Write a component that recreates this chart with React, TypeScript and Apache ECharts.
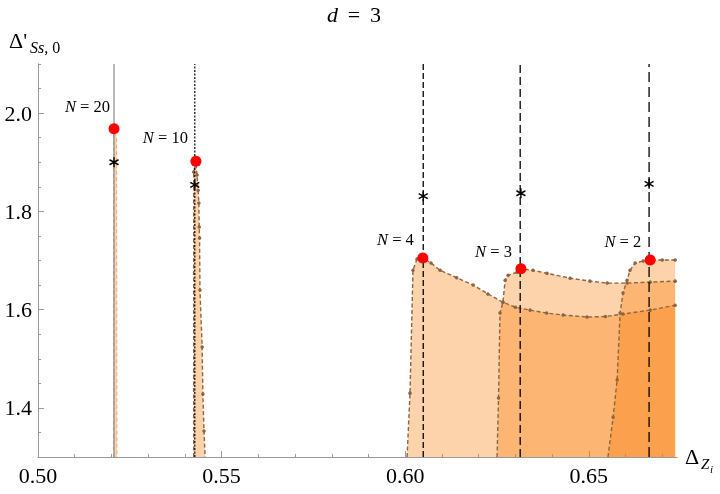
import { useEffect, useRef } from 'react';
import * as echarts from 'echarts';

// ---- data ----
const xTicksMajor = [0.5, 0.55, 0.6, 0.65];
const xTicksMinor = [0.5, 0.51, 0.52, 0.53, 0.54, 0.55, 0.56, 0.57, 0.58, 0.59, 0.6, 0.61, 0.62, 0.63, 0.64, 0.65, 0.66, 0.67];
const yTicksMajor = [1.4, 1.6, 1.8, 2.0];
const yTicksMinor = [1.3, 1.35, 1.4, 1.45, 1.5, 1.55, 1.6, 1.65, 1.7, 1.75, 1.8, 1.85, 1.9, 1.95, 2.0, 2.05, 2.1];

const region20: [number, number][] = [[0.5206, 1.3], [0.5206, 1.968], [0.5214, 1.95], [0.5215, 1.3]];
const region10: [number, number][] = [
  [0.5424, 1.3], [0.5424, 1.88], [0.543, 1.902], [0.5433, 1.874], [0.5436, 1.843], [0.5438, 1.817],
  [0.5439, 1.768], [0.5440, 1.746], [0.5441, 1.64], [0.5447, 1.524], [0.5449, 1.428], [0.5452, 1.353], [0.5455, 1.3],
];
const region4: [number, number][] = [
  [0.6005, 1.3], [0.6013, 1.43], [0.6021, 1.68], [0.6032, 1.703], [0.6048, 1.705], [0.607, 1.695],
  [0.6095, 1.68], [0.614, 1.665], [0.6185, 1.65], [0.6225, 1.632], [0.6266, 1.615], [0.63, 1.605],
  [0.634, 1.599], [0.6385, 1.593], [0.643, 1.589], [0.6495, 1.585], [0.6545, 1.586], [0.6593, 1.591],
  [0.6667, 1.599], [0.6735, 1.609],
];
const region3: [number, number][] = [
  [0.625, 1.3], [0.6254, 1.42], [0.6258, 1.593], [0.6266, 1.615], [0.6272, 1.66], [0.628, 1.67],
  [0.6304, 1.676], [0.6315, 1.683], [0.6348, 1.68], [0.6386, 1.674], [0.6449, 1.664], [0.6503, 1.658],
  [0.655, 1.654], [0.6604, 1.654], [0.6667, 1.656], [0.6735, 1.658],
];
const region2: [number, number][] = [
  [0.6552, 1.3], [0.6566, 1.381], [0.6577, 1.457], [0.6585, 1.593], [0.6593, 1.634], [0.6604, 1.66],
  [0.6612, 1.68], [0.6626, 1.695], [0.6648, 1.699], [0.6669, 1.701], [0.67, 1.701], [0.6735, 1.701],
];

const nLabels = ['20', '10', '4', '3', '2'];
const redPoints: [number, number][] = [[0.5207, 1.968], [0.543, 1.902], [0.6048, 1.705], [0.6315, 1.683], [0.6667, 1.701]];
const starPoints: [number, number][] = [[0.5207, 1.9], [0.5427, 1.854], [0.6049, 1.831], [0.6315, 1.837], [0.6664, 1.856]];
const vLineX = [0.5207, 0.5427, 0.6049, 0.6313, 0.6664];

// ---- styles ----
const labelOffsets: [number, number][] = [[1.5, -22], [-2.5, -24], [-3.5, -19], [-3.5, -17], [-3.5, -19]];
const vLineStyles = [
  { color: '#8a8a8a', type: 'solid', width: 1.2 },
  { color: '#000', type: [2, 1.5], width: 1.2 },
  { color: '#000', type: [6, 3], width: 1.3 },
  { color: '#000', type: [8, 4], width: 1.3 },
  { color: '#000', type: [10, 5], width: 1.3 },
];
const SERIF = '"Liberation Serif", "Times New Roman", serif';
const FILL = 'rgb(250,120,0)';
const EDGE = '#8f6440';
const AXIS = '#9a9a9a';

function areaSeries(data: [number, number][], showDots: boolean, edgeWidth = 1.4, edgeColor = EDGE) {
  return {
    type: 'line',
    data: data.map((p) => (p[1] <= 1.3 ? { value: p, symbol: 'none' } : { value: p })),
    smooth: false,
    symbol: showDots ? 'circle' : 'none',
    symbolSize: 3.5,
    itemStyle: { color: EDGE },
    lineStyle: { color: edgeColor, type: [4, 2.5], width: edgeWidth },
    areaStyle: { color: FILL, opacity: 0.33, origin: 'start' },
    z: 2,
    silent: true,
  };
}

export default function App() {
  const ref = useRef<HTMLDivElement>(null);
  useEffect(() => {
    document.body.style.margin = '0';
    const chart = echarts.init(ref.current!, null, { renderer: 'svg' });
    const commonAxisLine = { show: true, lineStyle: { color: AXIS, width: 1 } };
    const option: any = {
      animation: false,
      grid: { left: 38, right: 43, top: 64, bottom: 37, outerBoundsMode: 'none' },
      xAxis: [
        {
          type: 'value', min: 0.5, max: 0.674, position: 'bottom',
          axisLine: commonAxisLine,
          axisTick: { show: true, inside: true, length: 3, customValues: xTicksMinor, lineStyle: { color: AXIS } },
          axisLabel: { show: false },
          splitLine: { show: false },
        },
        {
          type: 'value', min: 0.5, max: 0.674, position: 'bottom',
          axisLine: commonAxisLine,
          axisTick: { show: true, inside: true, length: 6, customValues: xTicksMajor, lineStyle: { color: AXIS } },
          axisLabel: {
            show: true, customValues: xTicksMajor, formatter: (v: number) => v.toFixed(2),
            fontFamily: SERIF, fontSize: 22, color: '#000', margin: 7,
          },
          splitLine: { show: false },
        },
      ],
      yAxis: [
        {
          type: 'value', min: 1.3, max: 2.1, position: 'left',
          axisLine: commonAxisLine,
          axisTick: { show: true, inside: true, length: 3, customValues: yTicksMinor, lineStyle: { color: AXIS } },
          axisLabel: { show: false },
          splitLine: { show: false },
        },
        {
          type: 'value', min: 1.3, max: 2.1, position: 'left',
          axisLine: commonAxisLine,
          axisTick: { show: true, inside: true, length: 6, customValues: yTicksMajor, lineStyle: { color: AXIS } },
          axisLabel: {
            show: true, customValues: yTicksMajor, formatter: (v: number) => v.toFixed(1),
            fontFamily: SERIF, fontSize: 22, color: '#000', margin: 6,
          },
          splitLine: { show: false },
        },
      ],
      series: [
        areaSeries(region4, true),
        areaSeries(region3, true),
        areaSeries(region2, true),
        areaSeries(region10, true),
        areaSeries(region20, false, 0.8, '#e0a060'),
        ...vLineX.map((x, i) => ({
          type: 'line',
          data: [[x, 1.3], [x, 2.1]],
          symbol: 'none',
          lineStyle: vLineStyles[i],
          z: 3,
          silent: true,
        })),
        {
          type: 'scatter',
          data: starPoints,
          symbol: 'path://M0,-5L0,5M-4.33,-2.5L4.33,2.5M-4.33,2.5L4.33,-2.5',
          symbolSize: [9, 10],
          itemStyle: { color: 'rgba(0,0,0,0)', borderColor: '#000', borderWidth: 1.5, opacity: 1 },
          z: 4,
          silent: true,
        },
        {
          type: 'scatter',
          data: redPoints.map((p, i) => ({
            value: p,
            name: nLabels[i],
            label: { offset: labelOffsets[i] },
          })),
          symbol: 'circle',
          symbolSize: 11,
          itemStyle: { color: '#ff0000', opacity: 1 },
          label: {
            show: true,
            position: 'left',
            distance: 0,
            formatter: (p: any) => `{i|N} = ${p.name}`,
            fontFamily: SERIF,
            fontSize: 16.5,
            color: '#000',
            rich: { i: { fontFamily: SERIF, fontStyle: 'italic', fontSize: 16.5, color: '#000' } },
          },
          z: 5,
          silent: true,
        },
      ],
      graphic: [
        {
          type: 'text', x: 354, y: 14,
          style: {
            text: '{i|d}\u2009 = \u20093', fill: '#000', fontFamily: SERIF, fontSize: 22,
            align: 'center', verticalAlign: 'middle',
            rich: { i: { fontFamily: SERIF, fontStyle: 'italic', fontSize: 22, fill: '#000' } },
          },
        },
        {
          type: 'text', x: 9, y: 40,
          style: { text: "Δ'", fill: '#000', fontFamily: SERIF, fontSize: 22, align: 'left', verticalAlign: 'middle' },
        },
        {
          type: 'text', x: 30, y: 47,
          style: {
            text: '{i|Ss}, 0', fill: '#000', fontFamily: SERIF, fontSize: 16, align: 'left', verticalAlign: 'middle',
            rich: { i: { fontFamily: SERIF, fontStyle: 'italic', fontSize: 16, fill: '#000' } },
          },
        },
        {
          type: 'text', x: 685, y: 456,
          style: { text: 'Δ', fill: '#000', fontFamily: SERIF, fontSize: 22, align: 'left', verticalAlign: 'middle' },
        },
        {
          type: 'text', x: 701, y: 464,
          style: { text: 'Z', fill: '#000', fontFamily: SERIF, fontStyle: 'italic', fontSize: 15, align: 'left', verticalAlign: 'middle' },
        },
        {
          type: 'text', x: 710, y: 469,
          style: { text: 'i', fill: '#000', fontFamily: SERIF, fontStyle: 'italic', fontSize: 11, align: 'left', verticalAlign: 'middle' },
        },
      ],
    };
    chart.setOption(option);
    return () => chart.dispose();
  }, []);
  return <div ref={ref} style={{ position: 'fixed', left: 0, top: 0, width: 720, height: 494 }} />;
}
